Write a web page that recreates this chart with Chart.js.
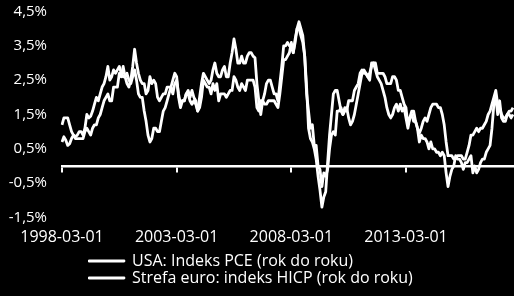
<!DOCTYPE html>
<html>
<head>
<meta charset="utf-8">
<script src="https://cdn.jsdelivr.net/npm/chart.js@4/dist/chart.umd.min.js"></script>
<style>
  html, body { margin: 0; padding: 0; background: #000; }
  #c { display: block; }
</style>
</head>
<body>
<canvas id="c" width="514" height="296"></canvas>
<script>
// ---- DATA ----
const startYear = 1998, startMonth = 3, monthCount = 237; // 1998-03 .. 2017-11
const categories = [];
for (let i = 0; i < monthCount; i++) {
  const t = (startMonth - 1) + i;
  const y = startYear + Math.floor(t / 12);
  const m = (t % 12) + 1;
  categories.push(y + '-' + String(m).padStart(2, '0') + '-01');
}

const xTickLabels = ['1998-03-01', '2003-03-01', '2008-03-01', '2013-03-01'];
const yTickValues = [-1.5, -0.5, 0.5, 1.5, 2.5, 3.5, 4.5];

const seriesNames = ['USA: Indeks PCE (rok do roku)', 'Strefa euro: indeks HICP (rok do roku)'];

const usaPce = [
  0.7, 0.85, 0.75, 0.6, 0.65, 0.8, 0.9, 0.85, 0.9, 1.0,
  1.0, 0.9, 1.1, 1.5, 1.4, 1.45, 1.6, 1.8, 2.0, 1.9, 2.1, 2.3,
  2.4, 2.6, 2.9, 2.5, 2.6, 2.8, 2.7, 2.8, 2.9, 2.7, 2.6, 2.6,
  2.7, 2.5, 2.4, 2.6, 2.8, 2.5, 2.1, 2.0, 2.0, 1.6, 1.3, 0.9,
  0.7, 0.8, 1.1, 1.1, 1.0, 1.0, 1.3, 1.6, 1.7, 1.9, 2.1, 2.3,
  2.5, 2.7, 2.6, 2.0, 1.7, 1.9, 1.9, 2.1, 2.1, 1.9, 1.8, 1.9,
  1.8, 1.6, 2.0, 2.4, 2.7, 2.6, 2.5, 2.4, 2.5, 2.8, 3.0, 2.7,
  2.6, 2.6, 2.8, 2.9, 2.6, 2.6, 3.0, 3.3, 3.7, 3.4, 3.0, 3.0,
  3.2, 3.0, 3.0, 3.2, 3.3, 3.3, 3.2, 3.15, 2.4, 1.9, 1.5, 1.9,
  2.1, 2.4, 2.5, 2.5, 2.3, 2.1, 2.1, 1.9, 2.4, 2.9, 3.5, 3.5,
  3.6, 3.5, 3.5, 3.3, 3.6, 4.0, 4.2, 4.0, 3.8, 3.2, 2.3, 1.1,
  0.8, 0.7, 0.5, 0.2, -0.3, -0.7, -1.2, -0.9, -0.75, 0.1, 0.9, 1.5,
  2.1, 2.2, 2.2, 1.9, 1.6, 1.5, 1.6, 1.7, 1.4, 1.2, 1.3, 1.5,
  1.8, 2.1, 2.4, 2.7, 2.8, 2.7, 2.6, 2.7, 2.9, 3.0, 2.8, 2.6,
  2.5, 2.4, 2.2, 2.0, 1.7, 1.5, 1.4, 1.5, 1.7, 1.8, 1.6, 1.8,
  1.6, 1.7, 1.4, 1.1, 1.4, 1.5, 1.3, 1.3, 1.1, 0.95, 1.1, 1.3,
  1.4, 1.3, 1.5, 1.7, 1.8, 1.8, 1.8, 1.7, 1.7, 1.5, 1.2, 0.7,
  0.3, 0.3, 0.3, 0.2, 0.25, 0.3, 0.3, 0.3, 0.2, 0.2, 0.4, 0.6,
  0.9, 0.9, 1.0, 1.1, 1.0, 1.1, 1.1, 1.2, 1.3, 1.5, 1.6, 1.8,
  2.0, 2.2, 1.8, 1.7, 1.5, 1.4, 1.4, 1.5, 1.6, 1.6, 1.7
];

const euroHicp = [
  1.2, 1.4, 1.4, 1.4, 1.2, 1.0, 0.9, 0.8, 0.8, 0.8,
  0.8, 0.8, 1.0, 1.1, 1.0, 0.9, 1.1, 1.2, 1.2, 1.4, 1.5, 1.7,
  1.9, 2.0, 2.1, 1.9, 1.9, 2.3, 2.3, 2.3, 2.7, 2.6, 2.9, 2.6,
  2.4, 2.3, 2.5, 2.9, 3.4, 3.0, 2.7, 2.5, 2.4, 2.4, 2.1, 2.2,
  2.6, 2.4, 2.5, 2.4, 2.0, 1.9, 2.0, 2.1, 2.1, 2.3, 2.3, 2.3,
  2.1, 2.4, 2.5, 2.1, 1.8, 1.9, 1.9, 2.1, 2.2, 2.0, 2.2, 2.0,
  1.9, 1.6, 1.7, 2.0, 2.5, 2.4, 2.3, 2.3, 2.1, 2.4, 2.2, 2.4,
  1.9, 2.1, 2.1, 2.1, 2.0, 2.1, 2.2, 2.2, 2.6, 2.5, 2.3, 2.2,
  2.4, 2.3, 2.2, 2.5, 2.5, 2.5, 2.5, 2.3, 1.7, 1.6, 1.9, 1.9,
  1.8, 1.8, 1.9, 1.9, 1.9, 1.9, 1.8, 1.7, 2.1, 2.6, 3.1, 3.1,
  3.2, 3.3, 3.6, 3.3, 3.7, 4.0, 4.0, 3.8, 3.6, 3.2, 2.1, 1.6,
  1.1, 1.2, 0.6, 0.6, 0.0, -0.1, -0.6, -0.2, -0.3, -0.1, 0.5, 0.9,
  1.0, 0.9, 1.6, 1.6, 1.7, 1.5, 1.7, 1.6, 1.9, 1.9, 1.9, 2.2,
  2.3, 2.4, 2.7, 2.8, 2.7, 2.7, 2.6, 2.5, 3.0, 3.0, 3.0, 2.7,
  2.7, 2.7, 2.7, 2.6, 2.4, 2.4, 2.4, 2.6, 2.6, 2.5, 2.2, 2.2,
  2.0, 1.8, 1.7, 1.2, 1.4, 1.6, 1.6, 1.3, 1.1, 0.7, 0.9, 0.8,
  0.8, 0.7, 0.5, 0.7, 0.5, 0.5, 0.4, 0.4, 0.3, 0.4, 0.3, -0.2,
  -0.6, -0.3, -0.1, 0.0, 0.3, 0.2, 0.2, 0.1, -0.1, 0.1, 0.1, 0.2,
  0.3, -0.2, 0.0, -0.2, -0.1, 0.1, 0.2, 0.2, 0.4, 0.5, 0.6, 1.1,
  1.8, 2.0, 1.5, 1.9, 1.4, 1.3, 1.3, 1.5, 1.5, 1.4, 1.5
];

// ---- CHART ----
const FONT = '"Open Sans", "DejaVu Sans", sans-serif';
const WHITE = '#ffffff';

const legendShift = {
  id: 'legendShift',
  afterLayout(chart) {
    const lg = chart.legend;
    if (!lg) return;
    const dx = 26;
    lg.left += dx;
    lg.right += dx;
  }
};

new Chart(document.getElementById('c'), {
  type: 'line',
  data: {
    labels: categories,
    datasets: [
      { label: seriesNames[0], data: usaPce, borderColor: WHITE, backgroundColor: WHITE,
        borderWidth: 2.8, pointRadius: 0, tension: 0, fill: false, borderJoinStyle: 'round' },
      { label: seriesNames[1], data: euroHicp, borderColor: WHITE, backgroundColor: WHITE,
        borderWidth: 2.8, pointRadius: 0, tension: 0, fill: false, borderJoinStyle: 'round' }
    ]
  },
  options: {
    responsive: false,
    animation: false,
    devicePixelRatio: 1,
    layout: { padding: { top: 11.5, right: 1, left: 0, bottom: 0 } },
    scales: {
      x: {
        type: 'category',
        offset: false,
        grid: { display: false, drawTicks: false },
        border: { display: false },
        ticks: {
          autoSkip: false,
          maxRotation: 0,
          minRotation: 0,
          padding: 10,
          color: WHITE,
          font: { family: FONT, size: 16 },
          callback: function (v, i) {
            const lab = categories[i];
            return xTickLabels.includes(lab) ? lab : '';
          }
        },
        afterFit: s => { s.height = 34.5; s.paddingRight = 0; s.paddingLeft = 0; }
      },
      x0: {
        type: 'category',
        axis: 'x',
        position: { y: 0 },
        offset: false,
        min: categories[0],
        max: categories[categories.length - 1],
        ticks: { display: false },
        afterFit: s => { s.height = 0; s.paddingLeft = 0; s.paddingRight = 0; },
        grid: {
          drawOnChartArea: false,
          drawTicks: true,
          tickLength: 5,
          lineWidth: 2,
          color: ctx => xTickLabels.includes(categories[ctx.index]) ? WHITE : 'rgba(0,0,0,0)'
        },
        border: { display: true, color: WHITE, width: 2.5 }
      },
      y: {
        type: 'linear',
        min: -1.5,
        max: 4.5,
        grid: { display: false, drawTicks: false },
        border: { display: false },
        afterBuildTicks: s => { s.ticks = yTickValues.map(v => ({ value: v })); },
        afterFit: s => { s.width = 62; s.paddingTop = 0; s.paddingBottom = 0; },
        ticks: {
          padding: 15,
          color: WHITE,
          font: { family: FONT, size: 15 },
          callback: v => v.toFixed(1).replace('.', ',') + '%'
        }
      }
    },
    plugins: {
      legend: {
        display: true,
        position: 'bottom',
        align: 'start',
        fullSize: false,
        labels: {
          color: WHITE,
          boxWidth: 35,
          boxHeight: 0,
          padding: 1,
          font: { family: FONT, size: 16 }
        }
      },
      tooltip: { enabled: false }
    }
  },
  plugins: [legendShift]
});
</script>
</body>
</html>
